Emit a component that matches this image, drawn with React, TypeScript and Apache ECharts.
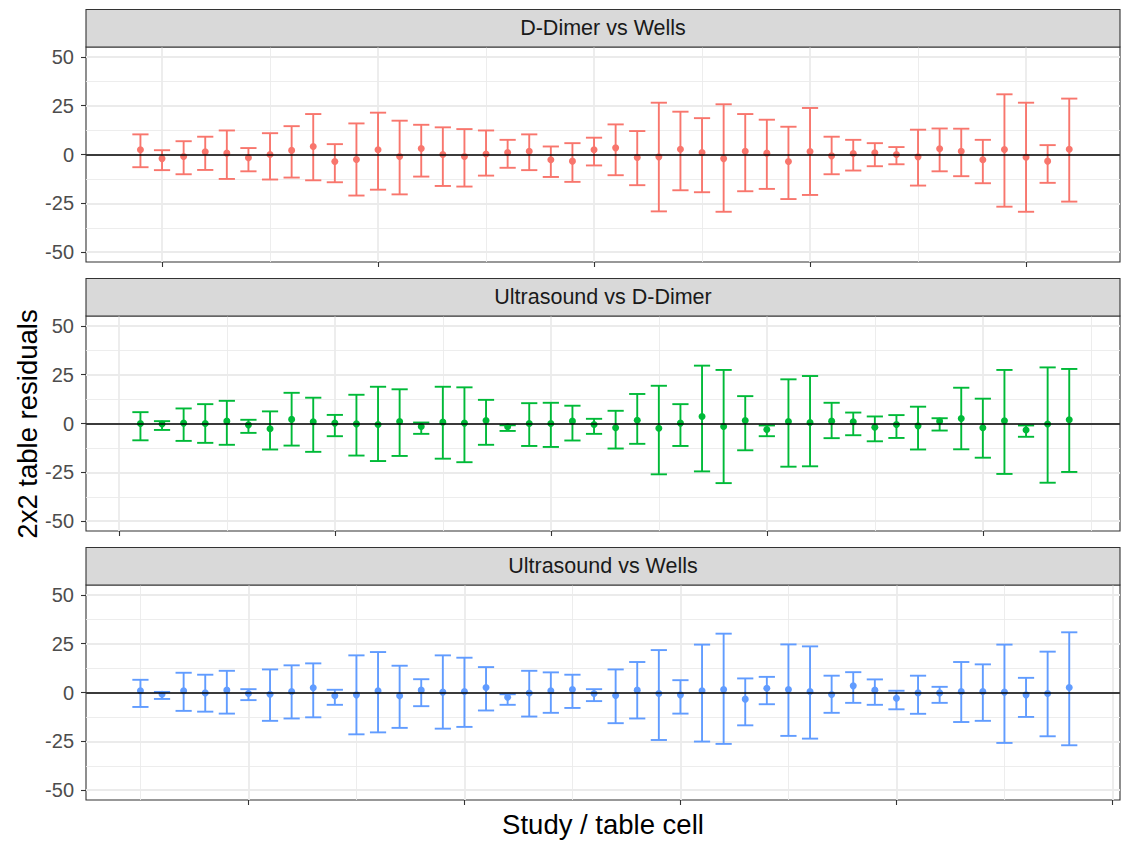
import React, { useEffect, useRef } from "react";
import * as echarts from "echarts";

// ---------- data ----------
const panelTitles = ["D-Dimer vs Wells", "Ultrasound vs D-Dimer", "Ultrasound vs Wells"];
const panelColors = ["#F8766D", "#00BA38", "#619CFF"];

const cells = [
  1, 2, 3, 4, 5, 6, 7, 8, 9, 10, 11, 12, 13, 14, 15, 16, 17, 18, 19, 20, 21, 22,
  23, 24, 25, 26, 27, 28, 29, 30, 31, 32, 33, 34, 35, 36, 37, 38, 39, 40, 41, 42, 43, 44,
];

// D-Dimer vs Wells
const estDW = [2.4, -2.1, -1.0, 1.4, 0.7, -1.7, 0, 2.1, 4.1, -3.6, -2.6, 2.4, -1.0, 3.1, 0, -1.0, 0.3, 1.0, 1.7, -2.7, -3.4, 2.4, 3.4, -1.5, -1.2, 2.7, 1.0, -2.1, 1.7, 0.7, -3.6, 1.5, -0.7, 0.5, 0.9, 0, -1.2, 2.9, 1.7, -2.7, 2.6, -1.4, -3.4, 2.7];
const upDW = [10.3, 2.2, 6.8, 9.1, 12.3, 3.3, 10.9, 14.5, 20.7, 5.3, 15.9, 21.4, 17.3, 15.2, 13.9, 13.0, 12.3, 7.5, 10.3, 4.1, 5.8, 8.6, 15.4, 12.0, 26.5, 21.9, 18.6, 25.7, 20.7, 17.8, 14.2, 23.8, 9.1, 7.5, 5.8, 3.8, 12.7, 13.3, 13.2, 7.5, 30.8, 26.5, 4.8, 28.6];
const loDW = [-6.5, -8.0, -10.1, -7.9, -12.5, -8.6, -12.8, -11.8, -13.2, -14.2, -21.0, -18.0, -20.4, -11.3, -16.1, -16.4, -10.8, -6.8, -8.0, -11.5, -14.0, -5.6, -10.6, -15.7, -29.1, -18.3, -19.3, -29.3, -18.8, -17.6, -22.8, -20.7, -10.1, -8.2, -6.0, -5.0, -15.9, -8.6, -11.1, -14.7, -26.7, -29.3, -14.5, -24.1];

// Ultrasound vs D-Dimer
const estUD = [0, -0.3, 0.2, 0, 1.2, -0.7, -2.7, 2.1, 0.9, 0.2, -0.2, -0.5, 1.0, -1.5, 0.7, 0.2, 1.5, -1.7, 0, 0, 1.2, -0.5, -2.2, 1.7, -2.4, 0.2, 3.6, -1.5, 1.5, -3.1, 1.0, 0.5, 1.2, 0.9, -1.9, -0.5, -1.2, 1.2, 2.6, -2.2, 1.4, -3.3, -0.3, 1.9];
const upUD = [5.8, 1.2, 7.7, 9.9, 11.6, 1.9, 6.2, 15.7, 13.2, 4.4, 14.7, 18.8, 17.5, 0.5, 18.8, 18.5, 12.1, -0.9, 10.4, 10.6, 9.1, 2.4, 6.5, 15.1, 19.3, 9.9, 29.6, 27.4, 14.0, -1.0, 22.6, 24.3, 10.6, 5.6, 3.6, 4.3, 8.6, 2.7, 18.3, 12.7, 27.4, -1.0, 28.7, 27.9];
const loUD = [-8.6, -3.3, -8.9, -9.9, -10.9, -4.8, -13.3, -11.3, -14.5, -6.5, -16.4, -19.2, -16.6, -5.3, -18.0, -19.8, -10.9, -3.8, -11.5, -12.0, -8.7, -5.3, -12.8, -10.4, -26.0, -11.5, -24.5, -30.5, -13.7, -6.5, -22.1, -21.9, -7.5, -6.0, -9.1, -7.4, -13.3, -3.6, -13.2, -17.5, -25.8, -6.8, -30.3, -24.8];

// Ultrasound vs Wells
const estUW = [0.9, -0.9, 0.9, -0.2, 1.2, -0.5, -0.9, 0.5, 2.4, -1.7, -1.2, 0.9, -1.7, 1.2, 0.2, 0.5, 2.6, -2.4, -0.3, 0.9, 1.5, -0.5, -1.5, 1.2, -0.5, -1.2, 0.9, 1.5, -3.4, 2.2, 1.5, 0.5, -1.0, 3.4, 1.2, -2.9, -0.2, -0.2, 0.5, 0.5, 0.2, -1.2, -0.5, 2.6];
const upUW = [6.5, 0.3, 10.1, 9.1, 11.1, 1.7, 11.8, 13.9, 14.9, 1.4, 19.0, 20.7, 13.7, 6.8, 19.0, 17.8, 13.0, -0.9, 11.1, 10.3, 9.1, 1.7, 11.8, 15.6, 21.7, 6.3, 24.5, 30.1, 7.2, 8.0, 24.6, 23.6, 8.6, 10.4, 6.7, 0.9, 8.6, 2.9, 15.6, 14.4, 24.5, 7.5, 20.9, 30.8];
const loUW = [-7.4, -3.3, -9.4, -9.8, -10.8, -3.9, -14.5, -13.3, -12.7, -6.3, -21.4, -20.4, -18.1, -7.0, -18.5, -17.6, -9.2, -6.3, -12.3, -10.4, -7.9, -4.4, -15.7, -13.3, -24.3, -10.8, -25.1, -26.3, -16.8, -6.0, -22.2, -23.6, -10.4, -5.3, -6.3, -8.6, -10.9, -5.3, -15.1, -14.5, -25.8, -12.5, -22.4, -27.0];

const estimates = [estDW, estUD, estUW];
const uppers = [upDW, upUD, upUW];
const lowers = [loDW, loUD, loUW];

// axis breaks
const yMajorTicks = [-50, -25, 0, 25, 50];
const yMinorTicks = [-37.5, -12.5, 12.5, 37.5];
const xMajorTicks = [
  [2, 12, 22, 32, 42],
  [0, 10, 20, 30, 40],
  [6, 16, 26, 36, 46],
];
const xMinorTicks = [
  [7, 17, 27, 37],
  [5, 15, 25, 35, 45],
  [1, 11, 21, 31, 41],
];
const xRange = [-1.52, 46.35];
const yRange = [-55, 55];

const FONT = "'Liberation Sans', Arial, Helvetica, sans-serif";

export default function App() {
  const ref = useRef<HTMLDivElement>(null);

  useEffect(() => {
    if (!ref.current) return;
    const chart = echarts.init(ref.current, null, { renderer: "svg" });

    const plotLeft = 86;
    const plotWidth = 1034;
    const plotTops = [47, 316, 585];
    const plotHeight = 215;
    const stripHeight = 37.5;

    const grids = plotTops.map((t) => ({
      left: plotLeft,
      top: t,
      width: plotWidth,
      height: plotHeight,
      show: true,
      borderColor: "#333333",
      borderWidth: 1.1,
      backgroundColor: "transparent",
      containLabel: false,
    }));

    const xAxes = plotTops.map((_, k) => ({
      gridIndex: k,
      type: "value",
      position: "bottom",
      min: xRange[0],
      max: xRange[1],
      axisLine: { show: false, onZero: false },
      splitLine: { show: false },
      axisLabel: { show: false },
      axisTick: {
        show: true,
        customValues: xMajorTicks[k],
        length: 5,
        lineStyle: { color: "#333333", width: 1.1 },
      },
    }));

    const yAxes = plotTops.map((_, k) => ({
      gridIndex: k,
      type: "value",
      position: "left",
      min: yRange[0],
      max: yRange[1],
      axisLine: { show: false, onZero: false },
      splitLine: { show: false },
      axisTick: {
        show: true,
        customValues: yMajorTicks,
        length: 5,
        lineStyle: { color: "#333333", width: 1.1 },
      },
      axisLabel: {
        show: true,
        customValues: yMajorTicks,
        color: "#4D4D4D",
        fontSize: 20,
        fontFamily: FONT,
        margin: 12,
      },
    }));

    const gridLineStyle = (w: number) => ({ color: "#EBEBEB", width: w, type: "solid" });

    const series: any[] = [];
    plotTops.forEach((_, k) => {
      const color = panelColors[k];
      const gridLines = [
        ...xMajorTicks[k].map((v) => ({ xAxis: v, lineStyle: gridLineStyle(1.8) })),
        ...xMinorTicks[k].map((v) => ({ xAxis: v, lineStyle: gridLineStyle(0.9) })),
        ...yMajorTicks.map((v) => ({ yAxis: v, lineStyle: gridLineStyle(1.8) })),
        ...yMinorTicks.map((v) => ({ yAxis: v, lineStyle: gridLineStyle(0.9) })),
      ];
      series.push({
        type: "custom",
        xAxisIndex: k,
        yAxisIndex: k,
        z: 2,
        silent: true,
        data: cells.map((c, i) => [c, lowers[k][i], uppers[k][i]]),
        encode: { x: 0, y: [1, 2] },
        renderItem: (params: any, api: any) => {
          const x = api.value(0);
          const lo = api.coord([x, api.value(1)]);
          const hi = api.coord([x, api.value(2)]);
          const half = api.size([0.75, 0])[0] / 2;
          const style = { stroke: color, lineWidth: 1.9 };
          return {
            type: "group",
            children: [
              { type: "line", shape: { x1: hi[0], y1: hi[1], x2: lo[0], y2: lo[1] }, style },
              { type: "line", shape: { x1: hi[0] - half, y1: hi[1], x2: hi[0] + half, y2: hi[1] }, style },
              { type: "line", shape: { x1: lo[0] - half, y1: lo[1], x2: lo[0] + half, y2: lo[1] }, style },
            ],
          };
        },
        markLine: {
          silent: true,
          z: 1,
          symbol: ["none", "none"],
          label: { show: false },
          emphasis: { disabled: true },
          data: gridLines,
        },
      });
      series.push({
        type: "scatter",
        xAxisIndex: k,
        yAxisIndex: k,
        z: 3,
        silent: true,
        symbol: "circle",
        symbolSize: 7,
        itemStyle: { color, opacity: 1 },
        data: cells.map((c, i) => [c, estimates[k][i]]),
        markLine: {
          silent: true,
          z: 10,
          symbol: ["none", "none"],
          label: { show: false },
          emphasis: { disabled: true },
          lineStyle: { color: "#000000", width: 1.6, type: "solid" },
          data: [{ yAxis: 0 }],
        },
      });
    });

    const graphics: any[] = [];
    plotTops.forEach((t, k) => {
      graphics.push({
        type: "rect",
        shape: { x: plotLeft, y: t - stripHeight, width: plotWidth, height: stripHeight },
        style: { fill: "#D9D9D9", stroke: "#333333", lineWidth: 1.1 },
        z: 5,
      });
      graphics.push({
        type: "text",
        x: plotLeft + plotWidth / 2,
        y: t - stripHeight / 2,
        style: {
          text: panelTitles[k],
          fontSize: 21.5,
          fontFamily: FONT,
          fill: "#1A1A1A",
          align: "center",
          verticalAlign: "middle",
        },
        z: 6,
      });
    });
    graphics.push({
      type: "text",
      x: plotLeft + plotWidth / 2,
      y: 824,
      style: {
        text: "Study / table cell",
        fontSize: 27.5,
        fontFamily: FONT,
        fill: "#000000",
        align: "center",
        verticalAlign: "middle",
      },
    });
    graphics.push({
      type: "text",
      x: 27,
      y: 424,
      rotation: Math.PI / 2,
      style: {
        text: "2x2 table residuals",
        fontSize: 27.5,
        fontFamily: FONT,
        fill: "#000000",
        align: "center",
        verticalAlign: "middle",
      },
    });

    chart.setOption({
      animation: false,
      backgroundColor: "#FFFFFF",
      textStyle: { fontFamily: FONT },
      grid: grids,
      xAxis: xAxes,
      yAxis: yAxes,
      series,
      graphic: graphics,
    });

    return () => chart.dispose();
  }, []);

  return (
    <div
      ref={ref}
      style={{ position: "absolute", left: 0, top: 0, width: 1121, height: 843 }}
    />
  );
}
